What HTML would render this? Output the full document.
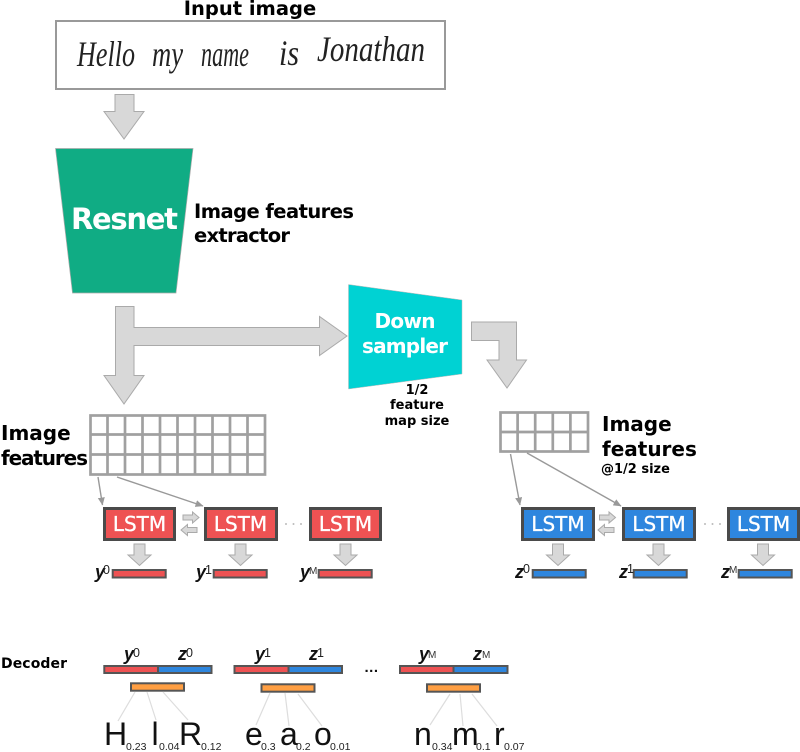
<!DOCTYPE html>
<html>
<head>
<meta charset="utf-8">
<style>
html,body{margin:0;padding:0;background:#fff;width:800px;height:752px;overflow:hidden}
svg{display:block}
.d{font-family:"DejaVu Sans",sans-serif;font-weight:bold;fill:#000}
.w{font-family:"DejaVu Sans",sans-serif;font-weight:bold;fill:#fff}
.v{font-family:"Liberation Sans",sans-serif;font-weight:bold;font-style:italic;font-size:18px;fill:#111}
.s{font-family:"Liberation Sans",sans-serif;font-size:12.500px;fill:#222}
.sm{font-family:"Liberation Sans",sans-serif;font-size:10px;fill:#333}
.L{font-family:"Liberation Sans",sans-serif;font-size:32px;fill:#111}
.p{font-family:"Liberation Sans",sans-serif;font-size:10.500px;fill:#222}
.h{font-family:"Liberation Serif",serif;font-style:italic;font-size:36px;fill:#222}
.a{fill:#d8d8d8;stroke:#aaa;stroke-width:1}
.g{fill:none;stroke:#999;stroke-width:2}
.gr{fill:none;stroke:#a0a0a0;stroke-width:2.700}
.t{fill:none;stroke:#999;stroke-width:1.400}
.c{stroke:#ddd;stroke-width:1.200}
.R{fill:#ee5253;stroke:#4a4a4a;stroke-width:3}
.B{fill:#2e86de;stroke:#4a4a4a;stroke-width:3}
.rb{fill:#ee5253;stroke:#555;stroke-width:2}
.bb{fill:#2e86de;stroke:#555;stroke-width:2}
.ob{fill:#ff9f43;stroke:#555;stroke-width:2}
.x{font-family:"DejaVu Sans",sans-serif;font-size:20px;fill:#fff;text-anchor:middle;stroke:#fff;stroke-width:0.300}
</style>
</head>
<body>
<svg width="800" height="752" viewBox="0 0 800 752" xmlns="http://www.w3.org/2000/svg">
<defs>
<path id="dn" class="a" d="M-5.500 -10H5.500V1H11.500L0 11.500L-11.500 1H-5.500Z"/>
<path id="rt" class="a" d="M-8 -2.500H1.500V-5.500L8 0L1.500 5.500V2.500H-8Z"/>
<path id="lf" class="a" d="M8 -2.500H-1.500V-5.500L-8 0L-1.500 5.500V2.500H8Z"/>
<marker id="m" markerWidth="9" markerHeight="8" refX="7.500" refY="3.500" orient="auto" markerUnits="userSpaceOnUse"><path d="M0 0L8 3.500L0 7Z" fill="#999"/></marker>
</defs>

<text class="d" x="250" y="15" font-size="19.500" text-anchor="middle">Input image</text>
<rect x="56" y="21" width="389" height="68" fill="#fff" class="g"/>
<text class="h" x="77" y="66" textLength="58" lengthAdjust="spacingAndGlyphs">Hello</text>
<text class="h" x="152" y="66" textLength="31" lengthAdjust="spacingAndGlyphs">my</text>
<text class="h" x="201" y="66" textLength="48" lengthAdjust="spacingAndGlyphs">name</text>
<text class="h" x="279" y="65" textLength="20" lengthAdjust="spacingAndGlyphs">is</text>
<text class="h" x="317" y="61" textLength="108" lengthAdjust="spacingAndGlyphs">Jonathan</text>

<path class="a" d="M115 94.500H134V111.500H144L124 139L104 111.500H115Z"/>
<path d="M55.500 148.500H193L176 293H72.500Z" fill="#10ac84" stroke="#aaa" stroke-width="0.700"/>
<text class="w" x="124.500" y="229" font-size="29" text-anchor="middle" textLength="107">Resnet</text>
<text class="d" x="194" y="218" font-size="19.500" textLength="160">Image features</text>
<text class="d" x="194" y="242" font-size="19.500" textLength="96">extractor</text>

<path class="a" d="M115.500 306.500H134V327.500H319.500V316.500L347 336L319.500 355.500V345.500H134V375.500H144L124 404L104 375.500H115.500Z"/>
<path d="M348.500 284.500L462 300V374L348.500 389Z" fill="#00d2d3" stroke="#bbb" stroke-width="0.500"/>
<text class="w" x="405" y="328" font-size="20" text-anchor="middle" textLength="61">Down</text>
<text class="w" x="405" y="353" font-size="20" text-anchor="middle" textLength="86">sampler</text>
<text class="d" x="417" y="394" font-size="13" text-anchor="middle">1/2</text>
<text class="d" x="417" y="409" font-size="13" text-anchor="middle">feature</text>
<text class="d" x="417" y="425" font-size="13" text-anchor="middle">map size</text>
<path class="a" d="M471.500 322H516.500V360H526.500L507 388L487 360H499V340.500H471.500Z"/>

<text class="d" x="1" y="440" font-size="20">Image</text>
<text class="d" x="1" y="465" font-size="20" textLength="87">features</text>
<g class="gr">
<rect x="90.500" y="415.500" width="174.500" height="59"/>
<path d="M107.500 415V475M125 415V475M142.500 415V475M160 415V475M177.500 415V475M195 415V475M212.500 415V475M230 415V475M247.500 415V475M90 434.500H265M90 454.500H265"/>
<rect x="500.500" y="412.500" width="87.500" height="39"/>
<path d="M517.600 412V452M535.200 412V452M552.800 412V452M570.400 412V452M500 432H588"/>
</g>
<text class="d" x="602" y="431" font-size="20">Image</text>
<text class="d" x="602" y="456" font-size="20">features</text>
<text class="d" x="601" y="473" font-size="13">@1/2 size</text>

<path class="t" marker-end="url(#m)" d="M98 477L102.500 505"/>
<path class="t" marker-end="url(#m)" d="M117 477L203 506"/>
<path class="t" marker-end="url(#m)" d="M510.500 454L520 505"/>
<path class="t" marker-end="url(#m)" d="M527 453L621 506"/>

<rect class="R" x="104.500" y="508.500" width="70" height="31"/>
<rect class="R" x="205.500" y="508.500" width="71" height="31"/>
<rect class="R" x="310.500" y="508.500" width="70" height="31"/>
<rect class="B" x="522.500" y="508.500" width="71" height="31"/>
<rect class="B" x="623.500" y="508.500" width="71" height="31"/>
<rect class="B" x="728.500" y="508.500" width="70" height="31"/>
<text class="x" x="139.500" y="531">LSTM</text>
<text class="x" x="240.500" y="531">LSTM</text>
<text class="x" x="345.500" y="531">LSTM</text>
<text class="x" x="558" y="531">LSTM</text>
<text class="x" x="659" y="531">LSTM</text>
<text class="x" x="763.500" y="531">LSTM</text>

<use href="#rt" x="191" y="517.500"/><use href="#lf" x="189" y="530"/>
<use href="#rt" x="607.500" y="517.500"/><use href="#lf" x="606" y="530"/>
<g fill="#bbb">
<circle cx="286" cy="524" r="1"/><circle cx="293.500" cy="524" r="1"/><circle cx="301" cy="524" r="1"/>
<circle cx="705" cy="524" r="1"/><circle cx="712.500" cy="524" r="1"/><circle cx="720" cy="524" r="1"/>
</g>

<use href="#dn" x="139.500" y="554"/><use href="#dn" x="240.500" y="554"/><use href="#dn" x="345.500" y="554"/>
<use href="#dn" x="558" y="554"/><use href="#dn" x="658.500" y="554"/><use href="#dn" x="763" y="554"/>

<rect class="rb" x="112.700" y="570" width="53" height="7.500"/>
<rect class="rb" x="213.700" y="570" width="53" height="7.500"/>
<rect class="rb" x="318.700" y="570" width="53" height="7.500"/>
<rect class="bb" x="532.700" y="570" width="53" height="7.500"/>
<rect class="bb" x="633.700" y="570" width="53" height="7.500"/>
<rect class="bb" x="738.700" y="570" width="53" height="7.500"/>

<text class="v" x="95" y="578">y</text><text class="s" x="103" y="574">0</text>
<text class="v" x="196" y="578">y</text><text class="s" x="205" y="574">1</text>
<text class="v" x="300" y="578">y</text><text class="sm" x="309" y="574">M</text>
<text class="v" x="515" y="578">z</text><text class="s" x="523" y="573">0</text>
<text class="v" x="619" y="578">z</text><text class="s" x="627" y="573">1</text>
<text class="v" x="721" y="578">z</text><text class="sm" x="729" y="573">M</text>

<text class="d" x="1" y="668" font-size="14" textLength="66">Decoder</text>

<rect class="rb" x="104.300" y="666" width="53.700" height="7"/><rect class="bb" x="158" y="666" width="53.500" height="7"/>
<rect class="rb" x="234.500" y="666" width="54" height="7"/><rect class="bb" x="288.500" y="666" width="53.500" height="7"/>
<rect class="rb" x="400" y="666" width="53.500" height="7"/><rect class="bb" x="453.500" y="666" width="54" height="7"/>
<rect class="ob" x="131" y="683.300" width="53" height="7.400"/>
<rect class="ob" x="261.500" y="684.300" width="53" height="7.400"/>
<rect class="ob" x="427" y="684.300" width="53" height="7.400"/>

<text class="v" x="124" y="660">y</text><text class="s" x="133" y="657">0</text>
<text class="v" x="178" y="660">z</text><text class="s" x="186" y="657">0</text>
<text class="v" x="255" y="660">y</text><text class="s" x="264" y="657">1</text>
<text class="v" x="309" y="660">z</text><text class="s" x="317" y="657">1</text>
<text class="v" x="419" y="660">y</text><text class="sm" x="428" y="658">M</text>
<text class="v" x="473" y="660">z</text><text class="sm" x="482" y="658">M</text>
<text x="371.500" y="672" font-family="Liberation Sans,sans-serif" font-size="15" font-weight="bold" letter-spacing="0.500" text-anchor="middle" fill="#111">...</text>

<g class="c">
<path d="M135 692L118 721M147 692L156 720M163 692L188 720"/>
<path d="M270 693L256 725M285 693L289 726M298 694L322 726"/>
<path d="M450 694L430 725M460 694L463 726M472 694L497 726"/>
</g>

<text class="L" x="104" y="745">H</text><text class="p" x="126" y="750">0.23</text>
<text class="L" x="151.500" y="745">l</text><text class="p" x="159" y="750">0.04</text>
<text class="L" x="179" y="745">R</text><text class="p" x="201" y="750">0.12</text>
<text class="L" x="245" y="745">e</text><text class="p" x="261" y="750">0.3</text>
<text class="L" x="280" y="745">a</text><text class="p" x="296" y="750">0.2</text>
<text class="L" x="314" y="745">o</text><text class="p" x="330" y="750">0.01</text>
<text class="L" x="414" y="745">n</text><text class="p" x="432" y="750">0.34</text>
<text class="L" x="452" y="745">m</text><text class="p" x="476" y="750">0.1</text>
<text class="L" x="494" y="745">r</text><text class="p" x="504" y="750">0.07</text>
</svg>
</body>
</html>
